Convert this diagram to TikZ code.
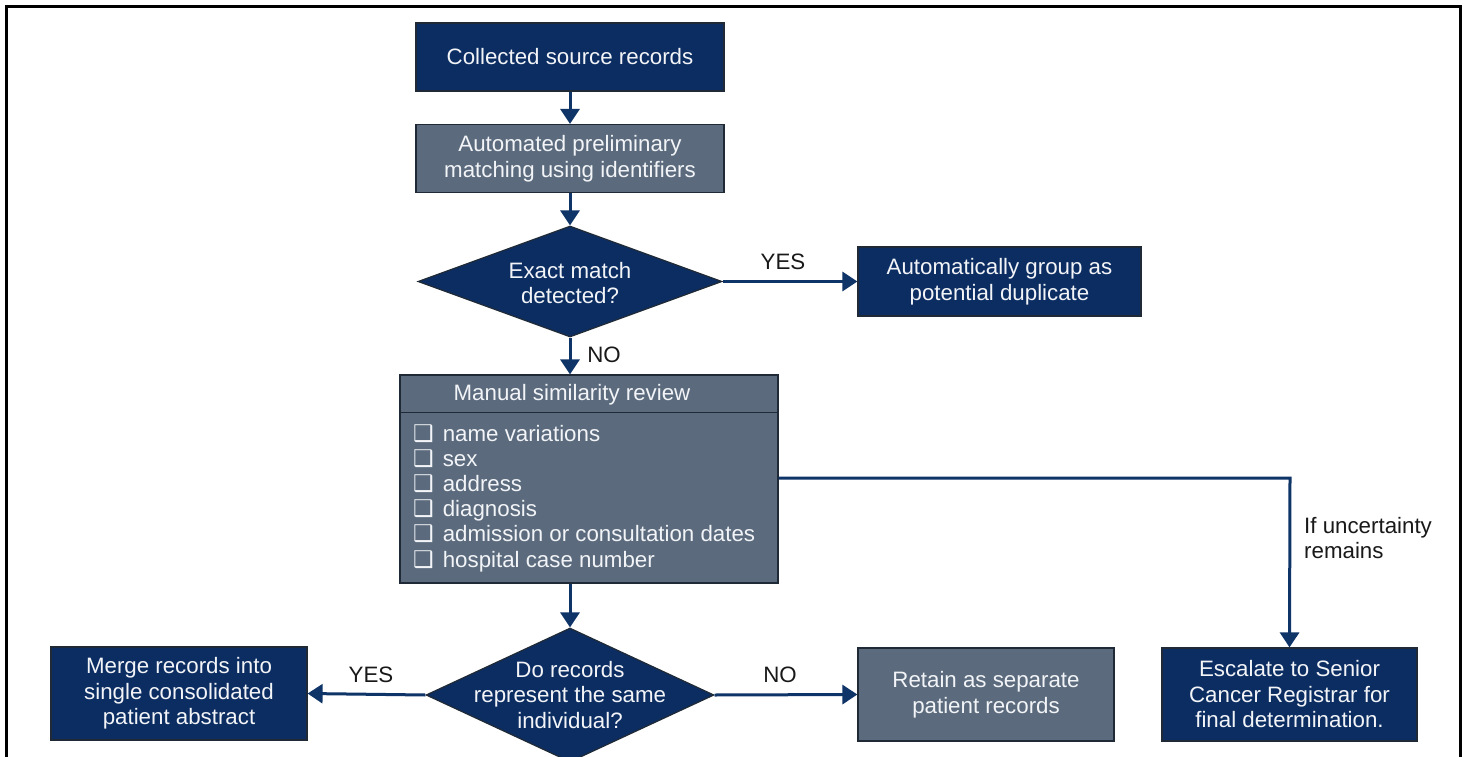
\documentclass[tikz,border=0pt]{standalone}
\usepackage{fontspec}
\setmainfont{Liberation Sans}
\newfontfamily\symfont{DejaVu Sans}
\usetikzlibrary{shapes.geometric,arrows.meta}
\definecolor{navy}{HTML}{0C2D62}
\definecolor{slate}{HTML}{5B6B7D}
\definecolor{edge}{HTML}{1F2A36}
\definecolor{arrowc}{HTML}{0E3468}
\definecolor{boxtext}{HTML}{F2F4F7}
\tikzset{
  base/.style={font=\fontsize{22.3}{25.5}\selectfont, align=center, inner sep=0pt},
  navybox/.style={base, rectangle, draw=edge, line width=1.2pt, fill=navy, text=boxtext},
  slatebox/.style={base, rectangle, draw=edge, line width=1.2pt, fill=slate, text=boxtext},
  dia/.style={diamond, draw=edge, line width=1.2pt, fill=navy, inner sep=0pt},
  diatext/.style={base, text=boxtext},
  lbl/.style={base, text=black!90},
  conn/.style={draw=arrowc, line width=3pt, -{Triangle[width=19pt,length=15pt]}},
}
\newcommand\cbx{{\symfont\fontsize{23}{23}\selectfont ❑}\hspace{9pt}}
\begin{document}
\begin{tikzpicture}[x=1pt,y=-1pt]
\useasboundingbox (0,0) rectangle (1467,757);
\fill[white] (0,0) rectangle (1467,757);
\draw[black, line width=3pt] (6,757) -- (6,7) -- (1460,7) -- (1460,757);

% nodes
\node[navybox, minimum width=308pt, minimum height=68pt] (collect) at (570,57) {Collected source records};
\node[slatebox, minimum width=308pt, minimum height=68pt] (auto) at (570,158.5) {Automated preliminary\\matching using identifiers};
\node[dia, minimum width=304pt, minimum height=111pt] (d1) at (570,281.5) {};
\node[diatext] (d1t) at (570,283) {Exact match\\detected?};
\node[navybox, minimum width=283pt, minimum height=69pt] (group) at (999.5,281.5) {Automatically group as\\potential duplicate};
\node[slatebox, minimum width=378pt, minimum height=208pt] (manual) at (589,479) {};
\draw[edge, line width=1.2pt] (manual.north west) ++(0,38) -- ++(378,0);
\node[base, text=boxtext] (mhead) at (572,395) {Manual similarity review};
\node[base, text=boxtext, align=left, anchor=west, font=\fontsize{22.3}{25.2}\selectfont] (mlist) at (413,498) {\cbx name variations\\\cbx sex\\\cbx address\\\cbx diagnosis\\\cbx admission or consultation dates\\\cbx hospital case number};
\node[dia, minimum width=288pt, minimum height=134pt] (d2) at (570,695) {};
\node[diatext] (d2t) at (570,695) {Do records\\represent the same\\individual?};
\node[navybox, minimum width=256pt, minimum height=93pt] (merge) at (179,693.5) {Merge records into\\single consolidated\\patient abstract};
\node[slatebox, minimum width=256pt, minimum height=93pt] (retain) at (986,694.5) {Retain as separate\\patient records};
\node[navybox, minimum width=255pt, minimum height=93pt] (esc) at (1289.5,694.5) {Escalate to Senior\\Cancer Registrar for\\final determination.};

% connectors
\draw[conn] (collect) -- (auto);
\draw[conn] (auto) -- (d1.north);
\draw[conn] (d1.east) -- (group.west);
\draw[conn] (d1.south) -- (d1.south |- manual.north);
\draw[conn] (manual.south -| d2.north) -- (d2.north);
\draw[conn] (d2.west) -- (merge.east);
\draw[conn] (d2.east) -- (retain.west);
\coordinate (bend) at (1290,478);
\draw[conn] (manual.east |- bend) -- (bend) -- (esc.north);

% labels
\node[lbl] (lyes1) at (783,262) {YES};
\node[lbl] (lno1) at (604,355) {NO};
\node[lbl] (lyes2) at (371,675) {YES};
\node[lbl] (lno2) at (780,675) {NO};
\node[lbl, align=left, anchor=west] (lunc) at (1304,538) {If uncertainty\\remains};
\end{tikzpicture}
\end{document}
